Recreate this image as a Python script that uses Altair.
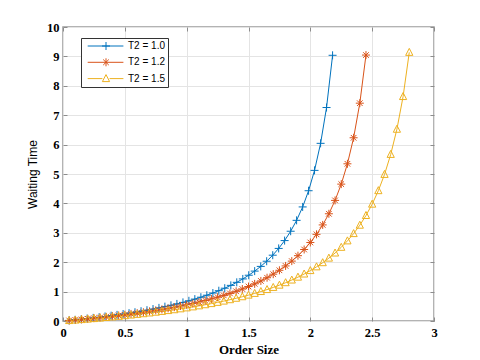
import altair as alt
import pandas as pd

series_names = ["T2 = 1.0", "T2 = 1.2", "T2 = 1.5"]
series_colors = ["#0072BD", "#D95319", "#EDB120"]

blue_x = [0.050, 0.098, 0.147, 0.195, 0.244, 0.292, 0.340, 0.389, 0.437, 0.486,
          0.534, 0.582, 0.631, 0.679, 0.728, 0.776, 0.824, 0.873, 0.921, 0.970,
          1.018, 1.066, 1.115, 1.163, 1.212, 1.260, 1.308, 1.357, 1.405, 1.454,
          1.502, 1.550, 1.599, 1.647, 1.696, 1.744, 1.792, 1.841, 1.889, 1.938,
          1.986, 2.034, 2.083, 2.131, 2.180]
blue_y = [0.020, 0.040, 0.061, 0.083, 0.106, 0.129, 0.154, 0.181, 0.208, 0.237,
          0.267, 0.299, 0.333, 0.368, 0.407, 0.446, 0.488, 0.534, 0.581, 0.633,
          0.687, 0.745, 0.809, 0.877, 0.951, 1.030, 1.116, 1.212, 1.315, 1.431,
          1.557, 1.697, 1.857, 2.033, 2.238, 2.469, 2.735, 3.053, 3.424, 3.880,
          4.431, 5.123, 6.043, 7.261, 9.038]

orange_x = [0.05, 0.10, 0.15, 0.20, 0.25, 0.30, 0.35, 0.40, 0.45, 0.50,
            0.55, 0.60, 0.65, 0.70, 0.75, 0.80, 0.85, 0.90, 0.95, 1.00,
            1.05, 1.10, 1.15, 1.20, 1.25, 1.30, 1.35, 1.40, 1.45, 1.50,
            1.55, 1.60, 1.65, 1.70, 1.75, 1.80, 1.85, 1.90, 1.95, 2.00,
            2.05, 2.10, 2.15, 2.20, 2.25, 2.30, 2.35, 2.40, 2.45]
orange_y = [0.018, 0.036, 0.055, 0.075, 0.096, 0.117, 0.140, 0.163, 0.188, 0.213,
            0.240, 0.268, 0.298, 0.329, 0.361, 0.395, 0.431, 0.469, 0.510, 0.552,
            0.597, 0.645, 0.696, 0.751, 0.809, 0.871, 0.938, 1.010, 1.088, 1.172,
            1.263, 1.363, 1.472, 1.593, 1.725, 1.873, 2.037, 2.222, 2.432, 2.671,
            2.947, 3.268, 3.647, 4.102, 4.656, 5.347, 6.232, 7.409, 9.046]

yellow_x = [0.05, 0.10, 0.15, 0.20, 0.25, 0.30, 0.35, 0.40, 0.45, 0.50,
            0.55, 0.60, 0.65, 0.70, 0.75, 0.80, 0.85, 0.90, 0.95, 1.00,
            1.05, 1.10, 1.15, 1.20, 1.25, 1.30, 1.35, 1.40, 1.45, 1.50,
            1.55, 1.60, 1.65, 1.70, 1.75, 1.80, 1.85, 1.90, 1.95, 2.00,
            2.05, 2.10, 2.15, 2.20, 2.25, 2.30, 2.35, 2.40, 2.45, 2.50,
            2.55, 2.60, 2.65, 2.70, 2.75, 2.80]
yellow_y = [0.015, 0.031, 0.048, 0.064, 0.082, 0.100, 0.119, 0.139, 0.159, 0.180,
            0.202, 0.225, 0.248, 0.273, 0.299, 0.326, 0.354, 0.383, 0.414, 0.446,
            0.480, 0.515, 0.553, 0.592, 0.634, 0.677, 0.724, 0.773, 0.825, 0.880,
            0.939, 1.002, 1.069, 1.142, 1.219, 1.303, 1.393, 1.491, 1.598, 1.714,
            1.842, 1.983, 2.139, 2.312, 2.506, 2.725, 2.973, 3.258, 3.588, 3.974,
            4.433, 4.986, 5.666, 6.522, 7.634, 9.137]

x_ticks = [0, 0.5, 1, 1.5, 2, 2.5, 3]
y_ticks = [0, 1, 2, 3, 4, 5, 6, 7, 8, 9, 10]

rows = []
for name, xs, ys in zip(series_names, [blue_x, orange_x, yellow_x], [blue_y, orange_y, yellow_y]):
    for i, (xv, yv) in enumerate(zip(xs, ys)):
        rows.append({"series": name, "x": xv, "y": yv, "i": i})
df = pd.DataFrame(rows)

W, H = 371, 294

# marker shapes (unit square)
plus_path = "M-1,0H1M0,-1V1"
star_path = "M-1,0H1M0,-1V1M-0.7,-0.7L0.7,0.7M-0.7,0.7L0.7,-0.7"
tri_path = "M0,-1L0.9,0.75L-0.9,0.75Z"
marker_paths = [plus_path, star_path, tri_path]

# legend symbols: line segment + marker, shifted right
leg_plus = "M-0.33,0H8.6M3.25,0H5.25M4.25,-1V1"
leg_star = "M-0.33,0H8.6M4.25,-1V1M3.55,-0.7L4.95,0.7M3.55,0.7L4.95,-0.7"
leg_tri = "M-0.33,0H3.35M5.15,0H8.6M4.25,-1L5.15,0.75L3.35,0.75Z"
shape_expr = ("datum.value === '%s' ? '%s' : datum.value === '%s' ? '%s' : '%s'"
              % (series_names[0], leg_plus, series_names[1], leg_star, leg_tri))

xscale = alt.Scale(domain=[0, 3], nice=False, zero=False)
yscale = alt.Scale(domain=[0, 10], nice=False, zero=False)
cscale = alt.Scale(domain=series_names, range=series_colors)

tick_col = "#8c8c8c"

main_x_axis = alt.Axis(values=x_ticks, format="~g", grid=True, gridColor="#e4e4e4",
                       ticks=False, domain=False, labelFlush=False, labelOverlap=False,
                       labelFont="Liberation Serif", labelFontWeight="bold", labelFontSize=12.5,
                       labelColor="black", labelPadding=5,
                       title="Order Size", titleFont="Liberation Serif", titleFontWeight="bold",
                       titleFontSize=13, titleColor="black", titleBaseline="middle", titleY=28)
main_y_axis = alt.Axis(values=y_ticks, format="d", grid=True, gridColor="#e4e4e4",
                       ticks=False, domain=False, labelFlush=False, labelOverlap=False,
                       labelFont="Liberation Serif", labelFontWeight="bold", labelFontSize=12.5,
                       labelColor="black", labelPadding=4,
                       title="Waiting Time", titleFont="Liberation Sans", titleFontWeight="normal",
                       titleFontSize=12, titleColor="black", titleAngle=270,
                       titleBaseline="middle", titleAlign="center", titleX=-31, titleY=H / 2)


def tick_axis(orient, offset, vals):
    return alt.Axis(orient=orient, offset=offset, values=vals, labels=False, grid=False,
                    domain=False, ticks=True, tickSize=4, tickColor=tick_col, tickWidth=1,
                    title=None)


legend = alt.Legend(
    title=None, orient="none", legendX=18, legendY=11, direction="vertical",
    fillColor="white", strokeColor="#333333", padding=3, rowPadding=4.3,
    symbolSize=64, symbolStrokeWidth=1, labelFont="Liberation Sans", labelFontSize=10,
    labelColor="black", labelOffset=34, cornerRadius=0,
    symbolFillColor="transparent",
    symbolType=alt.ExprRef(shape_expr))

lines = alt.Chart(df).mark_line(strokeWidth=1).encode(
    x=alt.X("x:Q", scale=xscale, axis=main_x_axis),
    y=alt.Y("y:Q", scale=yscale, axis=main_y_axis),
    color=alt.Color("series:N", scale=cscale, legend=legend),
    order=alt.Order("i:Q"),
)

point_layers = []
for k, (name, path) in enumerate(zip(series_names, marker_paths)):
    if k == 0:
        xa = tick_axis("top", -H, x_ticks)
        ya = tick_axis("right", -W, y_ticks)
    else:
        xa = None
        ya = None
    point_layers.append(
        alt.Chart(df).transform_filter(alt.datum.series == name)
        .mark_point(filled=False, size=64, strokeWidth=1, opacity=1, shape=path)
        .encode(
            x=alt.X("x:Q", scale=xscale, axis=xa),
            y=alt.Y("y:Q", scale=yscale, axis=ya),
            color=alt.Color("series:N", scale=cscale, legend=legend),
        )
    )

ticks_other = alt.Chart(df).mark_line(opacity=0).encode(
    x=alt.X("x:Q", scale=xscale, axis=tick_axis("bottom", -H, x_ticks)),
    y=alt.Y("y:Q", scale=yscale, axis=tick_axis("left", -W, y_ticks)),
    detail="series:N",
)

chart = alt.layer(lines, *point_layers, ticks_other).resolve_axis(
    x="independent", y="independent"
).properties(
    width=W, height=H,
    autosize=alt.AutoSizeParams(type="none"),
    padding={"left": 55, "top": 19, "right": 38, "bottom": 39},
    background="white",
).configure_view(stroke="#9a9a9a", strokeWidth=1.5)

chart.save("out.html", embed_options={"renderer": "svg", "actions": False})
